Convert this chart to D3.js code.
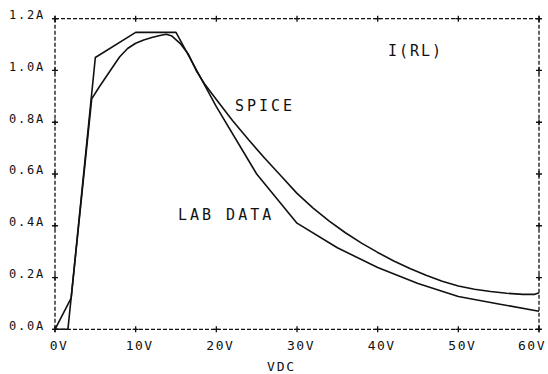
<!DOCTYPE html>
<html>
<head>
<meta charset="utf-8">
<script src="https://d3js.org/d3.v7.min.js"></script>
<style>
  body { margin: 0; background: #fff; }
  text { font-family: "DejaVu Sans Mono", monospace; fill: #111; }
</style>
</head>
<body>
<div id="chart-area"></div>
<script>

// lab measurements (volts, amps)
var labV = [0, 2, 5, 10, 15, 20, 25, 30, 35, 40, 45, 50, 55, 60];
var labA = [0, 0.12, 1.05, 1.147, 1.147, 0.86, 0.6, 0.41, 0.315, 0.239, 0.177, 0.127, 0.098, 0.07];

// spice sweep
var spiceV = [0, 1.6, 4.55, 5.5, 6.8, 8, 9, 10, 11, 12, 13, 13.8, 14.5, 15.5, 16.5, 17.5, 18.5, 20, 22, 24, 26, 28, 30, 32, 34, 36, 38, 40, 42, 44, 46, 48, 50, 52, 54, 56, 58, 59.5, 60];
var spiceA = [0, 0, 0.89, 0.937, 0.997, 1.052, 1.085, 1.105, 1.118, 1.127, 1.135, 1.14, 1.133, 1.105, 1.065, 1.0, 0.95, 0.888, 0.807, 0.732, 0.661, 0.593, 0.525, 0.468, 0.418, 0.373, 0.333, 0.297, 0.264, 0.235, 0.209, 0.186, 0.167, 0.155, 0.146, 0.139, 0.135, 0.135, 0.141];

var xTicks = [0, 10, 20, 30, 40, 50, 60];
var xTickLabels = ["0V", "10V", "20V", "30V", "40V", "50V", "60V"];
var yTicks = [0, 0.2, 0.4, 0.6, 0.8, 1.0, 1.2];
var yTickLabels = ["0.0A", "0.2A", "0.4A", "0.6A", "0.8A", "1.0A", "1.2A"];

var margin = {left: 55, right: 9, top: 18.7, bottom: 44.7};
var width = 548 - margin.left - margin.right;
var height = 374 - margin.top - margin.bottom;

var svg = d3.select("#chart-area")
  .append("svg")
  .attr("width", 548)
  .attr("height", 374);

var g = svg.append("g")
  .attr("transform", "translate(" + margin.left + "," + margin.top + ")");

var x = d3.scaleLinear().domain([0, 60]).range([0, width]);
var y = d3.scaleLinear().domain([0, 1.2]).range([height, 0]);

// dashed frame
var frame = [
  [0, 0, width, 0],
  [0, height, width, height],
  [0, 0, 0, height],
  [width, 0, width, height]
];
g.selectAll("line.frame").data(frame).enter().append("line")
  .attr("class", "frame")
  .attr("x1", d => d[0]).attr("y1", d => d[1])
  .attr("x2", d => d[2]).attr("y2", d => d[3])
  .attr("stroke", "#111")
  .attr("stroke-width", 1.3)
  .attr("stroke-dasharray", "4,2");

// "+" tick marks on all four sides
function cross(px, py) {
  g.append("path")
    .attr("d", "M" + (px - 3) + "," + py + "H" + (px + 3) + "M" + px + "," + (py - 3) + "V" + (py + 3))
    .attr("stroke", "#111")
    .attr("stroke-width", 1.3)
    .attr("fill", "none");
}
xTicks.forEach(v => { cross(x(v), 0); cross(x(v), height); });
yTicks.forEach(v => { cross(0, y(v)); cross(width, y(v)); });

// tick labels
g.selectAll("text.ylab").data(yTicks).enter().append("text")
  .attr("class", "ylab")
  .attr("x", -10)
  .attr("y", d => y(d) + 0.5)
  .attr("text-anchor", "end")
  .attr("font-size", "12px")
  .attr("letter-spacing", "1.8")
  .text((d, i) => yTickLabels[i]);

// last one pulled in so it stays on the page
g.selectAll("text.xlab").data(xTicks).enter().append("text")
  .attr("class", "xlab")
  .attr("x", (d, i) => i == xTicks.length - 1 ? x(d) - 7 : x(d) + 4)
  .attr("y", height + 21)
  .attr("text-anchor", "middle")
  .attr("font-size", "13px")
  .attr("letter-spacing", "1.5")
  .text((d, i) => xTickLabels[i]);

g.append("text")
  .attr("x", x(30) - 30)
  .attr("y", height + 42)
  .attr("font-size", "13px")
  .attr("letter-spacing", "1.8")
  .text("VDC");

// curves
var line = d3.line()
  .x(d => x(d[0]))
  .y(d => y(d[1]));

g.append("path")
  .datum(labV.map((v, i) => [v, labA[i]]))
  .attr("d", line)
  .attr("fill", "none")
  .attr("stroke", "#111")
  .attr("stroke-width", 1.6)
  .attr("stroke-linejoin", "round");

g.append("path")
  .datum(spiceV.map((v, i) => [v, spiceA[i]]))
  .attr("d", line)
  .attr("fill", "none")
  .attr("stroke", "#111")
  .attr("stroke-width", 1.6)
  .attr("stroke-linejoin", "round");

// curve labels
g.append("text")
  .attr("x", 235 - margin.left)
  .attr("y", 111.5 - margin.top)
  .attr("font-size", "15px")
  .attr("letter-spacing", "3")
  .text("SPICE");

g.append("text")
  .attr("x", 178 - margin.left)
  .attr("y", 220 - margin.top)
  .attr("font-size", "15px")
  .attr("letter-spacing", "3")
  .text("LAB DATA");

g.append("text")
  .attr("x", 388 - margin.left)
  .attr("y", 56.5 - margin.top)
  .attr("font-size", "15px")
  .attr("letter-spacing", "2")
  .text("I(RL)");

</script>
</body>
</html>
